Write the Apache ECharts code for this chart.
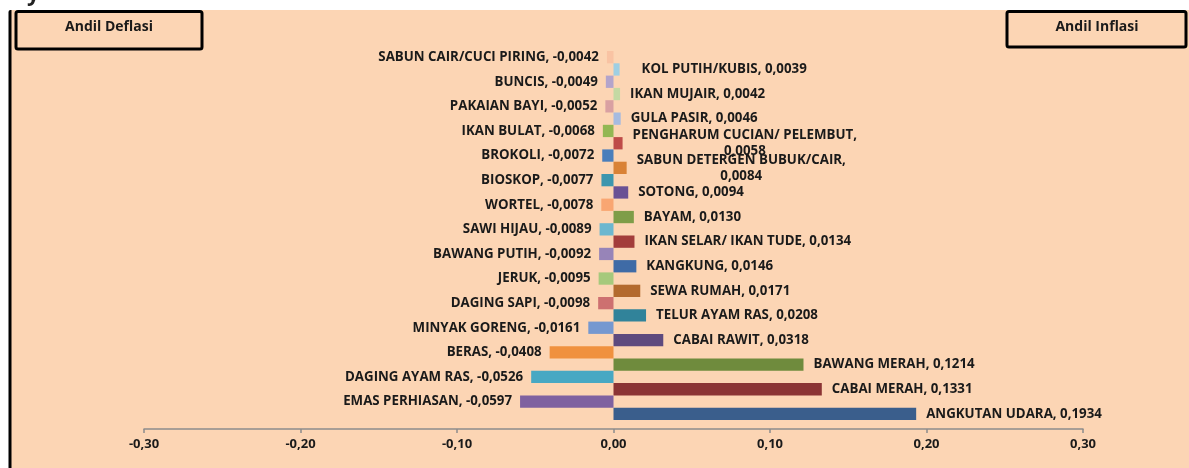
<!DOCTYPE html>
<html>
<head>
<meta charset="utf-8">
<script src="https://cdn.jsdelivr.net/npm/echarts@6/dist/echarts.min.js"></script>
<style>
html,body{margin:0;padding:0;background:#fff;}
#c{width:1189px;height:468px;}
</style>
</head>
<body>
<div id="c"></div>
<script>
// Data (top to bottom)
const categories = [
  'SABUN CAIR/CUCI PIRING','KOL PUTIH/KUBIS','BUNCIS','IKAN MUJAIR','PAKAIAN BAYI','GULA PASIR',
  'IKAN BULAT','PENGHARUM CUCIAN/ PELEMBUT','BROKOLI','SABUN DETERGEN BUBUK/CAIR','BIOSKOP','SOTONG',
  'WORTEL','BAYAM','SAWI HIJAU','IKAN SELAR/ IKAN TUDE','BAWANG PUTIH','KANGKUNG','JERUK','SEWA RUMAH',
  'DAGING SAPI','TELUR AYAM RAS','MINYAK GORENG','CABAI RAWIT','BERAS','BAWANG MERAH',
  'DAGING AYAM RAS','CABAI MERAH','EMAS PERHIASAN','ANGKUTAN UDARA'
];
const values = [
  -0.0042, 0.0039, -0.0049, 0.0042, -0.0052, 0.0046,
  -0.0068, 0.0058, -0.0072, 0.0084, -0.0077, 0.0094,
  -0.0078, 0.0130, -0.0089, 0.0134, -0.0092, 0.0146, -0.0095, 0.0171,
  -0.0098, 0.0208, -0.0161, 0.0318, -0.0408, 0.1214,
  -0.0526, 0.1331, -0.0597, 0.1934
];
const tickLabels = ['-0,30','-0,20','-0,10','0,00','0,10','0,20','0,30'];
const titleLeft = 'Andil Deflasi';
const titleRight = 'Andil Inflasi';

// Style palette
const palette = [
  '#F9C3A3','#9ECFE3','#B3A4CB','#C4D9A3','#D9A0A2','#A6BBE0',
  '#93B753','#BE4B48','#4A7EBB','#D98236','#3D96AE','#6A5194',
  '#F9A672','#7E9D48','#6CB7CF','#A33D3B','#9784B8','#3F6BA6','#A6C97C','#B36A2E',
  '#CD7070','#31839A','#7598D0','#5E4A7E','#F0913F','#6F8B3D',
  '#48A8C3','#8B3434','#7F61A0','#3A5E8C'
];

function fmt(v){
  const s = Math.abs(v).toFixed(4).replace('.', ',');
  return (v < 0 ? '-' : '') + s;
}

const chart = echarts.init(document.getElementById('c'), null, {renderer:'canvas'});
const FONT = '"Open Sans", "DejaVu Sans", sans-serif';
const FS = 13.3;

const data = values.map((v, i) => {
  const name = categories[i];
  const text = name + ', ' + fmt(v);
  let formatter = text;
  if (name.length > 22 && v > 0) {
    formatter = name + ',\n{c|' + fmt(v) + '}';
  }
  return {
    value: v,
    itemStyle: {color: palette[i]},
    label: {
      show: true,
      position: v < 0 ? 'left' : 'right',
      distance: v < 0 ? 8 : (i === 1 ? 22 : 10),
      formatter: formatter,
      rich: {c: {align: 'center', fontFamily: FONT, fontWeight: 'bold', fontSize: FS, color: '#1a1a1a'}}
    }
  };
});

chart.setOption({
  backgroundColor: 'transparent',
  animation: false,
  graphic: [
    {type:'rect', shape:{x:11, y:10, width:1178, height:458}, style:{fill:'#FCD5B4'}, z:-10, silent:true},
    {type:'rect', shape:{x:8.5, y:10, width:3, height:458, r:[2,0,0,0]}, style:{fill:'#000'}, z:10},
    {type:'text', left:27, top:-16, style:{text:'y', font:'bold 22px ' + FONT, fill:'#222'}},
    {type:'rect', shape:{x:16, y:11.5, width:186, height:37.5, r:2}, style:{fill:'#FCD5B4', stroke:'#000', lineWidth:3}, z:5},
    {type:'text', x:109, y:27, style:{text:titleLeft, font:'bold 14px ' + FONT, fill:'#1a1a1a', align:'center', verticalAlign:'middle'}, z:6},
    {type:'rect', shape:{x:1007, y:11.5, width:179, height:35.5, r:2}, style:{fill:'#FCD5B4', stroke:'#000', lineWidth:3}, z:5},
    {type:'text', x:1097, y:27, style:{text:titleRight, font:'bold 14px ' + FONT, fill:'#1a1a1a', align:'center', verticalAlign:'middle'}, z:6}
  ],
  grid: {left:144, right:106, top:51, height:369, containLabel:false},
  xAxis: {
    type:'value', min:-0.3, max:0.3, interval:0.1, offset:9,
    axisLine:{show:true, lineStyle:{color:'#8C8C8C', width:1.5}},
    axisTick:{show:true, length:4, lineStyle:{color:'#8C8C8C', width:1.5}},
    splitLine:{show:false},
    axisLabel:{
      margin:9, color:'#1a1a1a', fontFamily:FONT, fontWeight:'bold', fontSize:13,
      formatter: function(v){ const idx = Math.round((v + 0.3) / 0.1); return tickLabels[idx]; }
    }
  },
  yAxis: {
    type:'category', data:categories, inverse:true,
    axisLine:{show:false}, axisTick:{show:false}, axisLabel:{show:false}, splitLine:{show:false}
  },
  series: [{
    type:'bar', data:data, barCategoryGap:'0%',
    label:{fontFamily:FONT, fontWeight:'bold', fontSize:FS, color:'#1a1a1a', lineHeight:16}
  }]
});
</script>
</body>
</html>
